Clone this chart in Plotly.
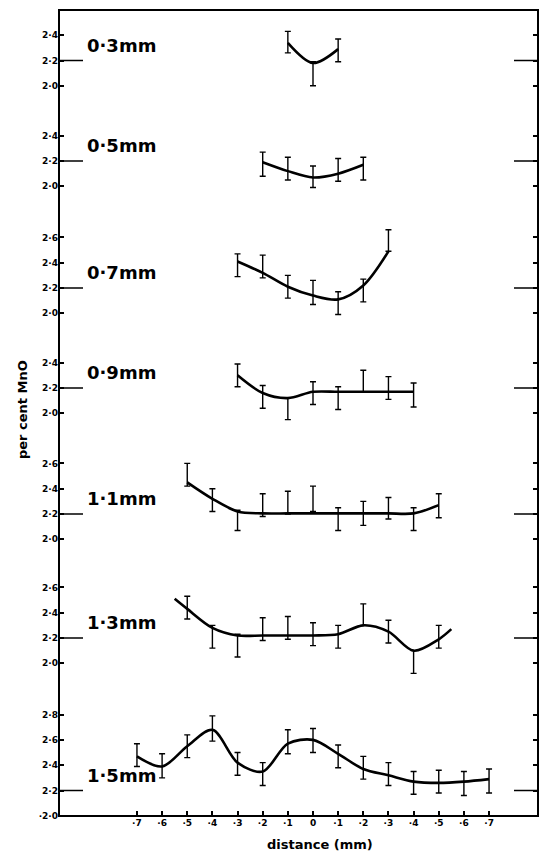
import plotly.graph_objects as go

# ---------------- data (distance in mm, values in per cent MnO) ----------------
labels = ["0·3mm", "0·5mm", "0·7mm", "0·9mm", "1·1mm", "1·3mm", "1·5mm"]

x03 = [-0.1, 0.0, 0.1]
c03 = [2.34, 2.18, 2.29]
hi03 = [2.43, 2.19, 2.37]
lo03 = [2.26, 2.00, 2.19]

x05 = [-0.2, -0.1, 0.0, 0.1, 0.2]
c05 = [2.19, 2.12, 2.07, 2.10, 2.17]
hi05 = [2.27, 2.23, 2.16, 2.22, 2.23]
lo05 = [2.08, 2.05, 1.99, 2.04, 2.05]

x07 = [-0.3, -0.2, -0.1, 0.0, 0.1, 0.2, 0.3]
c07 = [2.41, 2.32, 2.21, 2.14, 2.11, 2.22, 2.49]
hi07 = [2.47, 2.46, 2.30, 2.26, 2.17, 2.27, 2.66]
lo07 = [2.29, 2.28, 2.12, 2.07, 1.99, 2.09, 2.49]

x09 = [-0.3, -0.2, -0.1, 0.0, 0.1, 0.2, 0.3, 0.4]
c09 = [2.30, 2.16, 2.12, 2.17, 2.17, 2.17, 2.17, 2.17]
hi09 = [2.39, 2.22, 2.12, 2.25, 2.21, 2.34, 2.29, 2.24]
lo09 = [2.21, 2.04, 1.95, 2.07, 2.03, 2.17, 2.11, 2.05]

x11 = [-0.5, -0.4, -0.3, -0.2, -0.1, 0.0, 0.1, 0.2, 0.3, 0.4, 0.5]
c11 = [2.45, 2.32, 2.22, 2.205, 2.205, 2.205, 2.205, 2.205, 2.205, 2.205, 2.27]
hi11 = [2.60, 2.40, 2.23, 2.36, 2.38, 2.42, 2.25, 2.30, 2.33, 2.25, 2.36]
lo11 = [2.42, 2.22, 2.07, 2.18, 2.20, 2.22, 2.07, 2.11, 2.16, 2.07, 2.17]

x13 = [-0.5, -0.4, -0.3, -0.2, -0.1, 0.0, 0.1, 0.2, 0.3, 0.4, 0.5]
hi13 = [2.53, 2.30, 2.23, 2.36, 2.37, 2.32, 2.30, 2.47, 2.34, 2.10, 2.30]
lo13 = [2.35, 2.12, 2.05, 2.18, 2.19, 2.14, 2.12, 2.30, 2.16, 1.92, 2.12]
cx13 = [-0.55, -0.5, -0.4, -0.3, -0.2, -0.1, 0.0, 0.1, 0.2, 0.3, 0.4, 0.5, 0.55]
c13 = [2.51, 2.43, 2.28, 2.22, 2.22, 2.22, 2.22, 2.23, 2.30, 2.25, 2.10, 2.19, 2.27]

x15 = [-0.7, -0.6, -0.5, -0.4, -0.3, -0.2, -0.1, 0.0, 0.1, 0.2, 0.3, 0.4, 0.5, 0.6, 0.7]
c15 = [2.47, 2.39, 2.55, 2.68, 2.42, 2.35, 2.57, 2.60, 2.49, 2.37, 2.32, 2.27, 2.26, 2.27, 2.29]
hi15 = [2.57, 2.49, 2.64, 2.79, 2.50, 2.42, 2.68, 2.69, 2.56, 2.47, 2.42, 2.35, 2.36, 2.35, 2.37]
lo15 = [2.39, 2.30, 2.46, 2.59, 2.32, 2.24, 2.49, 2.50, 2.38, 2.29, 2.24, 2.17, 2.18, 2.16, 2.18]

yticks = [
    [2.0, 2.2, 2.4],
    [2.0, 2.2, 2.4],
    [2.0, 2.2, 2.4, 2.6],
    [2.0, 2.2, 2.4],
    [2.0, 2.2, 2.4, 2.6],
    [2.0, 2.2, 2.4, 2.6],
    [2.0, 2.2, 2.4, 2.6, 2.8],
]
ytick_text = [
    ["2·0", "2·2", "2·4"],
    ["2·0", "2·2", "2·4"],
    ["2·0", "2·2", "2·4", "2·6"],
    ["2·0", "2·2", "2·4"],
    ["2·0", "2·2", "2·4", "2·6"],
    ["2·0", "2·2", "2·4", "2·6"],
    ["·2·0", "2·2", "2·4", "2·6", "2·8"],
]
xtick_vals = [-0.7, -0.6, -0.5, -0.4, -0.3, -0.2, -0.1, 0.0, 0.1, 0.2, 0.3, 0.4, 0.5, 0.6, 0.7]
xtick_text = ["·7", "·6", "·5", "·4", "·3", "·2", "·1", "0", "·1", "·2", "·3", "·4", "·5", "·6", "·7"]
top_tick_vals = [-0.9, -0.8, -0.7, -0.6, -0.5, -0.4, -0.3, -0.2, -0.1, 0.0,
                 0.1, 0.2, 0.3, 0.4, 0.5, 0.6, 0.7, 0.8]
BASE = 2.2

points = [(x03, hi03, lo03), (x05, hi05, lo05), (x07, hi07, lo07), (x09, hi09, lo09),
          (x11, hi11, lo11), (x13, hi13, lo13), (x15, hi15, lo15)]
curves = [(x03, c03), (x05, c05), (x07, c07), (x09, c09), (x11, c11), (cx13, c13), (x15, c15)]

# ---------------- layout geometry ----------------
W, H = 546, 854
ML, MR, MT, MB = 59, 8, 10, 38
PW = W - ML - MR
PH = H - MT - MB
PLOT_BOTTOM = H - MB
PX_PER_UNIT = 126.5
panel_base_px = [60.5, 161, 288, 388, 514, 638, 790.5]  # pixel row of each panel's 2.2 level

FONT = "DejaVu Sans"
fig = go.Figure()

layout_axes = {}
for k in range(7):
    yname = "y" if k == 0 else f"y{k+1}"
    axname = "yaxis" if k == 0 else f"yaxis{k+1}"
    p = panel_base_px[k]
    lo_px = min(p + 60, PLOT_BOTTOM)
    hi_px = max(p - 90, MT)
    r0 = BASE - (lo_px - p) / PX_PER_UNIT
    r1 = BASE + (p - hi_px) / PX_PER_UNIT
    d0 = (PLOT_BOTTOM - lo_px) / PH
    d1 = (PLOT_BOTTOM - hi_px) / PH
    layout_axes[axname] = dict(
        domain=[max(0, d0), min(1, d1)], range=[r0, r1], anchor="x",
        tickvals=yticks[k], ticktext=ytick_text[k],
        ticks="inside", ticklen=5, tickwidth=1.5, tickcolor="black",
        mirror="ticks", showline=False, showgrid=False, zeroline=False,
        tickfont=dict(family=FONT, size=9, color="black", weight="bold"),
        fixedrange=True,
    )

    xs, cs = curves[k]
    fig.add_trace(go.Scatter(x=xs, y=cs, mode="lines", yaxis=yname, xaxis="x",
                             line=dict(color="black", width=2.6, shape="spline", smoothing=0.9),
                             showlegend=False, hoverinfo="skip"))
    px_, hi, lo = points[k]
    cvals = [cs[xs.index(v)] for v in px_]
    fig.add_trace(go.Scatter(
        x=px_, y=cvals, mode="markers", yaxis=yname, xaxis="x",
        marker=dict(size=1, color="rgba(0,0,0,0)"),
        error_y=dict(type="data", symmetric=False,
                     array=[h - c for h, c in zip(hi, cvals)],
                     arrayminus=[c - l for c, l in zip(cvals, lo)],
                     color="black", thickness=1.4, width=3),
        showlegend=False, hoverinfo="skip"))

shapes = [dict(type="rect", xref="paper", yref="paper", x0=0, x1=1, y0=0, y1=1,
               line=dict(color="black", width=2), fillcolor="rgba(0,0,0,0)")]
annotations = []
for k in range(7):
    yname = "y" if k == 0 else f"y{k+1}"
    shapes.append(dict(type="line", xref="paper", yref=yname, x0=0, x1=24 / PW,
                       y0=BASE, y1=BASE, line=dict(color="black", width=1.5)))
    shapes.append(dict(type="line", xref="paper", yref=yname, x0=1 - 24 / PW, x1=1,
                       y0=BASE, y1=BASE, line=dict(color="black", width=1.5)))
    annotations.append(dict(text=labels[k], xref="paper", yref=yname, x=26 / PW,
                            y=2.32, xanchor="left", yanchor="middle", showarrow=False,
                            font=dict(family=FONT, size=18, color="black", weight="bold")))

annotations.append(dict(text="per cent MnO", xref="paper", yref="paper",
                        x=(22 - ML) / PW, y=(PLOT_BOTTOM - 410) / PH,
                        textangle=-90, showarrow=False, xanchor="center", yanchor="middle",
                        font=dict(family=FONT, size=13, color="black", weight="bold")))
annotations.append(dict(text="distance (mm)", xref="x", yref="paper", x=0.028,
                        y=(PLOT_BOTTOM - 844) / PH, showarrow=False,
                        xanchor="center", yanchor="middle",
                        font=dict(family=FONT, size=13, color="black", weight="bold")))

xr = [(ML - 313) / 251.5, (W - MR - 313) / 251.5]
fig.update_layout(
    width=W, height=H, margin=dict(l=ML, r=MR, t=MT, b=MB, pad=0),
    paper_bgcolor="white", plot_bgcolor="rgba(0,0,0,0)",
    showlegend=False,
    xaxis=dict(range=xr, anchor="free", position=0, tickvals=xtick_vals, ticktext=xtick_text,
               ticks="inside", ticklen=5, tickwidth=1.5, tickcolor="black",
               showline=False, showgrid=False, zeroline=False, fixedrange=True,
               tickfont=dict(family=FONT, size=9, color="black", weight="bold")),
    xaxis2=dict(range=xr, overlaying="x", side="top", anchor="free", position=1,
                tickvals=top_tick_vals, ticks="inside", ticklen=4, tickwidth=1.5,
                tickcolor="black", showticklabels=False, showline=False,
                showgrid=False, zeroline=False, fixedrange=True),
    shapes=shapes, annotations=annotations,
    **layout_axes,
)

fig.write_html("out.html")
